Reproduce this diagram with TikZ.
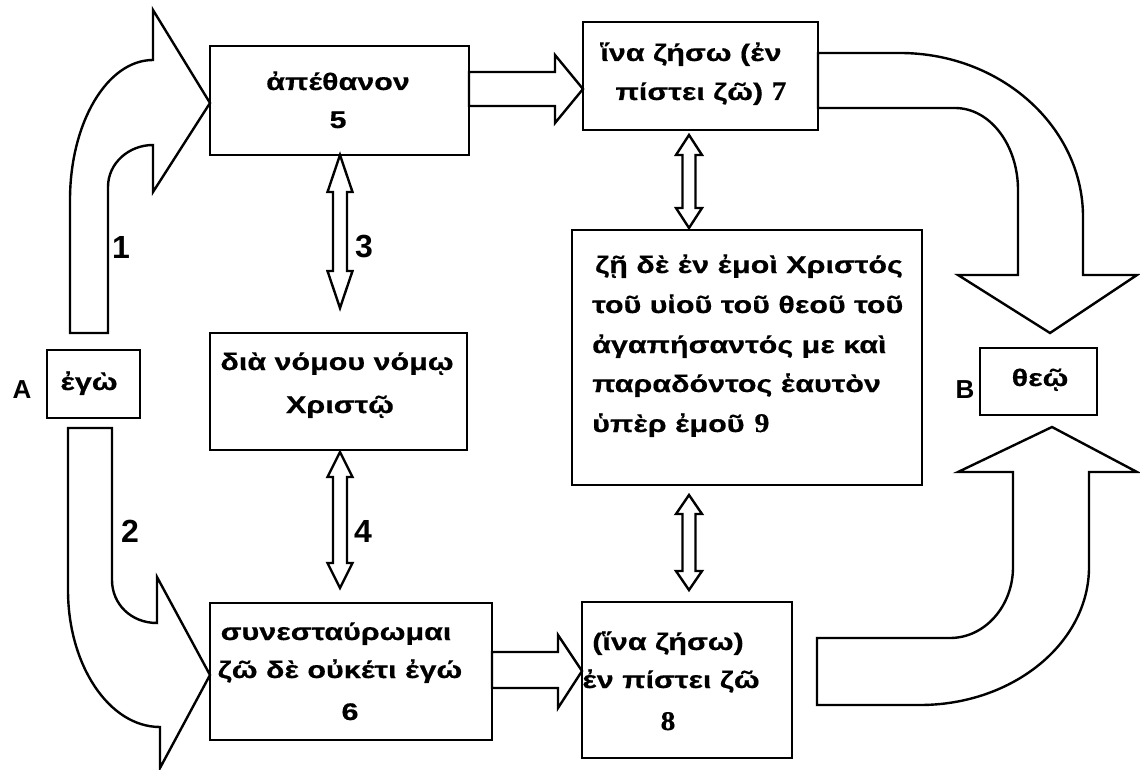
\documentclass[tikz,border=0pt]{standalone}
\usepackage{fontspec}
\newfontfamily\gk{Liberation Sans}[FakeStretch=1.27, FakeBold=0.5]
\newfontfamily\srf{Liberation Serif}[FakeStretch=1.1, FakeBold=0.4]
\newfontfamily\labf{Liberation Sans}
\newcommand{\gkb}{\gk\bfseries\fontsize{24}{28}\selectfont}
\newcommand{\sd}[1]{{\srf\bfseries\fontsize{27}{28}\selectfont #1}}
\newcommand{\vdblarrow}[6]{% x, top, bottom, head length, head half width, shaft half width
  \draw[blk] (#1,#2) -- ({#1+#5},{#2+#4}) -- ({#1+#6},{#2+#4}) -- ({#1+#6},{#3-#4})
    -- ({#1+#5},{#3-#4}) -- (#1,#3) -- ({#1-#5},{#3-#4}) -- ({#1-#6},{#3-#4})
    -- ({#1-#6},{#2+#4}) -- ({#1-#5},{#2+#4}) -- cycle;}
\begin{document}
\begin{tikzpicture}[x=1pt,y=-1pt,
  box/.style={draw, line width=2.4pt, inner sep=0pt},
  blk/.style={draw, line width=2.4pt, fill=white, line join=miter},
  txt/.style={font=\gkb, inner sep=0pt, anchor=base},
  txtl/.style={font=\gkb, inner sep=0pt, anchor=base west},
  lbl/.style={font=\labf\bfseries\fontsize{26}{30}\selectfont, inner sep=0pt, anchor=base},
  num/.style={font=\labf\bfseries\fontsize{32}{34}\selectfont, inner sep=0pt, anchor=base}]
\useasboundingbox (0,0) rectangle (1140,770);
\fill[white] (0,0) rectangle (1140,770);

% big curved block arrows
\draw[blk] (70,333) -- (70,200) .. controls (70,123) and (107,60) .. (153,60)
  -- (153,10) -- (210,103) -- (153,192) -- (153,145)
  .. controls (129,145) and (108,163) .. (108,187) -- (108,333) -- cycle;
\draw[blk] (68,428) -- (112,428) -- (112,580) .. controls (112,604) and (131,623) .. (157,623)
  -- (157,577) -- (210,675) -- (160,768) -- (160,727)
  .. controls (109,727) and (68,665) .. (68,590) -- cycle;
\draw[blk] (818,53) -- (900,53) .. controls (1001,53) and (1083,127) .. (1083,217)
  -- (1083,275) -- (1137,275) -- (1050,333) -- (958,275) -- (1018,275) -- (1018,190)
  .. controls (1018,145) and (990,108) .. (955,108) -- (818,108) -- cycle;
\draw[blk] (817,638) -- (950,638) .. controls (985,638) and (1013,606) .. (1013,567)
  -- (1013,472) -- (958,472) -- (1052,427) -- (1137,472) -- (1089,472) -- (1089,567)
  .. controls (1089,643) and (1013,705) .. (920,705) -- (817,705) -- cycle;

% straight block arrows
\draw[blk] (469,72) -- (555,72) -- (555,55) -- (583,89) -- (555,123) -- (555,106) -- (469,106) -- cycle;
\draw[blk] (492,652) -- (558,652) -- (558,635) -- (582,671) -- (558,708) -- (558,688) -- (492,688) -- cycle;

% double arrows
\vdblarrow{340}{155}{308}{37}{12.5}{7}
\vdblarrow{340}{452}{588}{25}{12.5}{7}
\vdblarrow{689}{135}{228}{20}{13}{6.5}
\vdblarrow{689}{495}{590}{19}{13}{6.5}

% boxes
\node[box, minimum width=259pt, minimum height=109pt] (b5) at (339.5,100.5) {};
\node[box, minimum width=235pt, minimum height=108pt] (b7) at (700.5,76) {};
\node[box, minimum width=350pt, minimum height=255pt] (b9) at (747,357.5) {};
\node[box, minimum width=93pt, minimum height=68pt] (bego) at (93.5,384) {};
\node[box, minimum width=257pt, minimum height=117pt] (bdia) at (338.5,391.5) {};
\node[box, minimum width=282pt, minimum height=137pt] (b6) at (351,671.5) {};
\node[box, minimum width=210pt, minimum height=156pt] (b8) at (687,680) {};
\node[box, minimum width=117pt, minimum height=67pt] (btheo) at (1038.5,381.5) {};

% texts
\node[txt] (t5a) at (338,90) {ἀπέθανον};
\node[txt] (t5b) at (338,128) {5};
\node[txt] (t7a) at (691,61) {ἵνα ζήσω (ἐν};
\node[txt] (t7b) at (701,100) {πίστει ζῶ) \sd{7}};
\node[txtl] (t9a) at (595,273) {ζῇ δὲ ἐν ἐμοὶ Χριστός};
\node[txtl] (t9b) at (592,313) {τοῦ υἱοῦ τοῦ θεοῦ τοῦ};
\node[txtl] (t9c) at (592,353) {ἀγαπήσαντός με καὶ};
\node[txtl] (t9d) at (592,392) {παραδόντος ἑαυτὸν};
\node[txtl] (t9e) at (592,432) {ὑπὲρ ἐμοῦ\hspace{10pt}\sd{9}};
\node[txt] (tdia) at (337,370) {διὰ νόμου νόμῳ};
\node[txt] (tdib) at (340,413) {Χριστῷ};
\node[txt] (t6a) at (336,640) {συνεσταύρωμαι};
\node[txt] (t6b) at (340,678) {ζῶ δὲ οὐκέτι ἐγώ};
\node[txt] (t6c) at (350,720) {6};
\node[txt] (t8a) at (668,650) {(ἵνα ζήσω)};
\node[txt] (t8b) at (671,688) {ἐν πίστει ζῶ};
\node[txt] (t8c) at (668,730) {\sd{8}};
\node[txt] (tego) at (89,390) {ἐγὼ};
\node[txt] (ttheo) at (1040,386) {θεῷ};

% labels
\node[lbl] (la) at (22,398) {A};
\node[lbl] (lb) at (965,398) {B};
\node[num] (n1) at (121,258) {1};
\node[num] (n2) at (130,542) {2};
\node[num] (n3) at (364,257) {3};
\node[num] (n4) at (363,542) {4};
\end{tikzpicture}
\end{document}
